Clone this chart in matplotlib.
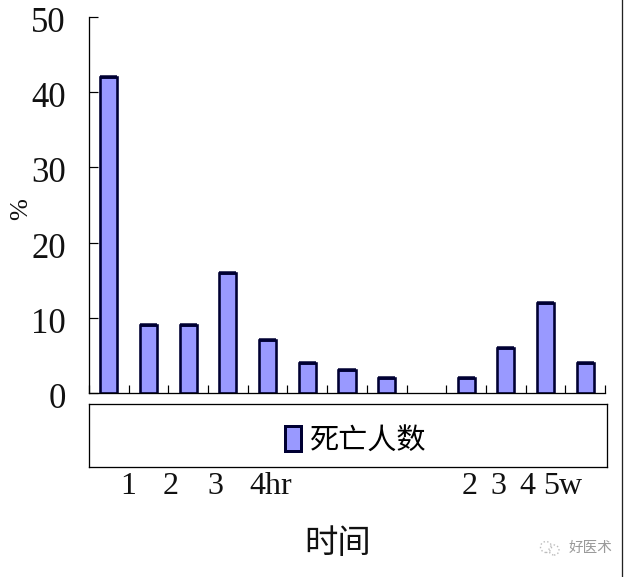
import numpy as np
from matplotlib import pyplot as plt
from matplotlib import patches
from matplotlib.lines import Line2D

W, H = 634, 577

values = [42, 9, 9, 16, 7, 4, 3, 2, np.nan, 2, 6, 12, 4]
y_ticks = [0, 10, 20, 30, 40, 50]
series_name = '死亡人数'
x_title = '时间'
y_title = '%'
x_labels = ['1', '2', '3', '4hr', '2', '3', '4', '5w']
x_label_px = [128, 171, 215, 271, 470, 498, 527, 563]

FILL = '#9999ff'
EDGE = '#000033'
SERIF = 'Liberation Serif'
CJK = 'Noto Sans CJK SC'
px = 0.72  # one pixel in points at dpi 100

def box(l, t, r, b):
    # pixel box, top-left origin -> figure fractions
    return [l / W, 1 - b / H, (r - l) / W, (b - t) / H]

fig = plt.figure(figsize=(W / 100, H / 100), dpi=100, facecolor='white')

##### main bars
ax = fig.add_axes(box(89, 17, 605, 393))
x = np.arange(len(values))
ax.bar(x, values, width=0.43, color=FILL, edgecolor=EDGE, linewidth=2.6 * px)
ax.hlines(values, x - 0.215, x + 0.215, color=EDGE, linewidth=3.5 * px, capstyle='butt')
ax.set_xlim(-0.5, len(values) - 0.5)
ax.set_ylim(0, 50)
ax.spines['top'].set_visible(False)
ax.spines['right'].set_visible(False)
ax.spines['left'].set_linewidth(1.3 * px)
ax.spines['bottom'].set_linewidth(1.3 * px)
ax.set_xticks(np.arange(len(values) + 1) - 0.5)
ax.set_xticklabels([])
ax.set_yticks(y_ticks)
ax.set_yticklabels([])
ax.tick_params(axis='x', direction='in', length=8 * px, width=1.2 * px)
ax.tick_params(axis='y', direction='in', length=9 * px, width=1.2 * px)
# the labels sit a little below their ticks
for v in y_ticks:
    ax.annotate(str(v), (0, v), xycoords=('axes fraction', 'data'), xytext=(-23 * px, -6.5 * px),
        textcoords='offset points', family=SERIF, fontsize=25, ha='right', va='center', color='#111111')
fig.text(21 / W, 1 - 209 / H, y_title, family=SERIF, fontsize=19, rotation=90, ha='center', va='center', color='#111111')

##### legend box
lax = fig.add_axes(box(89, 404, 607, 467))
lax.set_xticks([])
lax.set_yticks([])
for s in lax.spines.values():
    s.set_linewidth(1.3 * px)
handle = patches.Patch(facecolor=FILL, edgecolor=EDGE, linewidth=3 * px)
lax.legend([handle], [series_name], loc='center', frameon=False, handlelength=0.56, handleheight=0.95,
    handletextpad=0.3, borderpad=0, borderaxespad=0, bbox_to_anchor=(0.515, 0.42),
    prop={'family': CJK, 'size': 21})

##### category labels sit under the legend box
for lab, xp in zip(x_labels, x_label_px):
    fig.text(xp / W, 1 - 486 / H, lab, family=SERIF, fontsize=23, ha='center', va='center', color='#111111')
fig.text(338 / W, 1 - 543 / H, x_title, family=CJK, fontsize=24, ha='center', va='center', color='#111111')

##### frame line on the right and the watermark
fig.add_artist(Line2D([621.5 / W, 621.5 / W], [0, 1], color='#222222', linewidth=1.3 * px))
fig.text(591 / W, 1 - 548 / H, '好医术', family=CJK, fontsize=10.5, ha='center', va='center', color='#9a9a9a')
fig.add_artist(patches.Ellipse((546 / W, 1 - 547 / H), 11 / W, 11 / H, transform=fig.transFigure, fill=False,
    edgecolor='#bbbbbb', linewidth=1, linestyle=':'))
fig.add_artist(patches.Ellipse((554 / W, 1 - 550 / H), 10 / W, 10 / H, transform=fig.transFigure, fill=False,
    edgecolor='#bbbbbb', linewidth=1, linestyle=':'))

fig.savefig('out.png', dpi=100)
